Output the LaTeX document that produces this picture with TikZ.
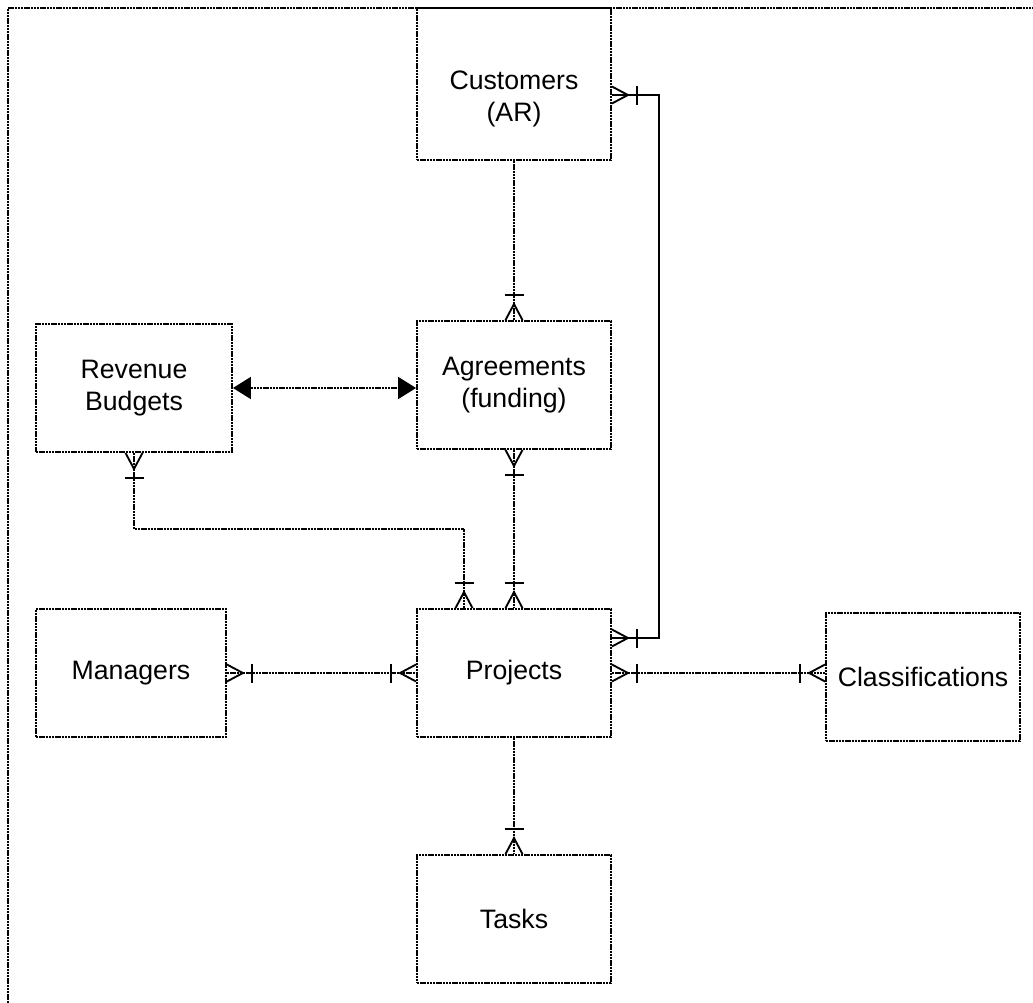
\documentclass[tikz,border=0pt]{standalone}
\usepackage{fontspec}
\setmainfont{Liberation Sans}
\usetikzlibrary{arrows.meta}
\begin{document}
\begin{tikzpicture}[x=0.75pt,y=-0.75pt,
  dline/.style={line width=1.4pt, dash pattern=on 1.8pt off 0.6pt},
  sline/.style={line width=1.4pt, solid},
  box/.style={dline, draw, minimum width=145.5pt, minimum height=96pt, inner sep=0pt,
    align=center, font=\fontsize{20}{24}\selectfont},
  foot/.style={line width=1.4pt, solid},
  crow/.pic={\draw[foot] (0,-8.5) -- (16,0) -- (0,8.5); \draw[foot] (25,-9.5) -- (25,9.5);},
  bothtri/.style={{Triangle[length=13.5pt,width=16.5pt]}-{Triangle[length=13.5pt,width=16.5pt]}}
]
\useasboundingbox (0,0) rectangle (1033,1003);
% outer frame (clipped at right and bottom)
\draw[line width=1.6pt, dash pattern=on 1.8pt off 0.6pt] (8,1003) -- (8,8) -- (1033,8);

% entities
\node[box, minimum height=114pt,
  label={[align=center, font=\fontsize{20}{24}\selectfont, yshift=-11pt]center:Customers\\(AR)}]
  (customers) at (514,84) {};
\node[box] (agreements) at (514,385) {Agreements\\(funding)};
\node[box, minimum width=147pt] (revenue) at (134,388) {Revenue\\Budgets};
\node[box] (projects) at (514,673) {Projects};
\node[box, minimum width=142.5pt] (managers) at (131,673) {Managers};
\node[box] (classifications) at (923,677) {Classifications};
\node[box] (tasks) at (514,919) {Tasks};

% helper coordinates
\coordinate (cE) at ([yshift=-8.25pt]customers.east);
\coordinate (pE) at ([yshift=26.25pt]projects.east);
\coordinate (pN) at ([xshift=-37.5pt]projects.north);
\coordinate (cW) at (projects.east -| classifications.west);
\coordinate (aW) at (revenue.east -| agreements.west);

% Customers - Agreements
\draw[dline] (customers.south) -- (agreements.north);
\pic[rotate=90] at (agreements.north) {crow};

% Customers - Projects (solid)
\draw[sline] (cE) -- ++(47,0) |- (pE);
\pic at (cE) {crow};
\pic at (pE) {crow};

% Revenue Budgets <-> Agreements
\draw[dline, bothtri] (revenue.east) -- (aW);

% Revenue Budgets - Projects
\draw[dline] (revenue.south) -- ++(0,76) -| (pN);
\pic[rotate=-90] at (revenue.south) {crow};
\pic[rotate=90] at (pN) {crow};

% Agreements - Projects
\draw[dline] (agreements.south) -- (projects.north);
\pic[rotate=-90] at (agreements.south) {crow};
\pic[rotate=90] at (projects.north) {crow};

% Managers - Projects
\draw[dline] (managers.east) -- (projects.west);
\pic at (managers.east) {crow};
\pic[rotate=180] at (projects.west) {crow};

% Projects - Classifications
\draw[dline] (projects.east) -- (cW);
\pic at (projects.east) {crow};
\pic[rotate=180] at (cW) {crow};

% Projects - Tasks
\draw[dline] (projects.south) -- (tasks.north);
\pic[rotate=90] at (tasks.north) {crow};
\end{tikzpicture}
\end{document}
